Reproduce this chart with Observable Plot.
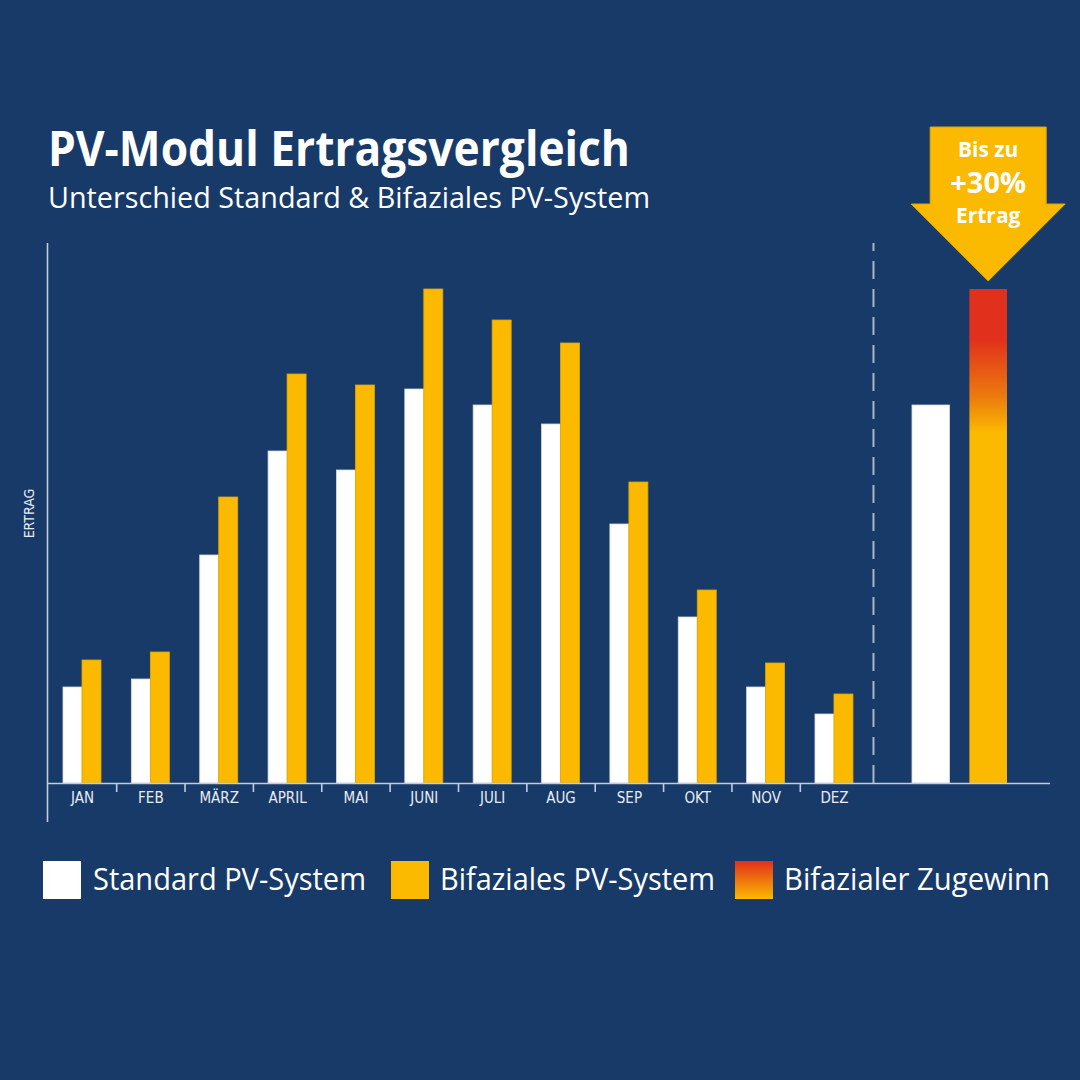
<!DOCTYPE html>
<html><head><meta charset="utf-8">
<script src="https://cdn.jsdelivr.net/npm/d3@7"></script>
<script src="https://cdn.jsdelivr.net/npm/@observablehq/plot@0.6"></script>
<style>
html,body{margin:0;padding:0;background:#173a69;}
body{width:1080px;height:1080px;position:relative;overflow:hidden;font-family:"Open Sans",sans-serif;color:#fff;}
.fit{position:absolute;white-space:nowrap;line-height:1;transform-origin:0 0;}
#title{left:48px;top:124px;font-weight:700;font-size:48px;}
#subtitle{left:48px;top:182px;font-size:29px;}
#chart{position:absolute;left:0;top:110px;}
.sw{position:absolute;width:38px;height:38px;top:861px;box-sizing:border-box;}
.lg{font-size:31px;top:863px;}
</style>
</head><body>
<div id="title" class="fit">PV-Modul Ertragsvergleich</div>
<div id="subtitle" class="fit">Unterschied Standard &amp; Bifaziales PV-System</div>
<div id="chart"></div>
<div id="legend"></div>
<script>
// ---- data ----
const months = ["JAN","FEB","MÄRZ","APRIL","MAI","JUNI","JULI","AUG","SEP","OKT","NOV","DEZ"];
const standard = [96,104,228,332,313,394,378,359,259,166,96,69];
const bifazial = [123,131,286,409,398,494,463,440,301,193,120,89];
const summaryLabels = ["Standard PV-System","Bifaziales PV-System"];
const summaryValues = [378,494];
const legendLabels = ["Standard PV-System","Bifaziales PV-System","Bifazialer Zugewinn"];
const arrowLines = ["Bis zu","+30%","Ertrag"];
const yLabel = "ERTRAG";

// ---- style ----
const WHITE = "#ffffff", YELLOW = "#fbb900", RED = "#e1301c", AXIS = "#c3ccd9", LABEL = "#e8ecf2";
const COND = "'DejaVu Sans Condensed','Liberation Sans Narrow',sans-serif";
const barW = 0.278;
const sumCenter = 12.836, sumW = 0.55, sumGap = 0.29;
const xMin = -0.512, xMax = 14.16, yMax = 540;

const rows = [];
months.forEach((m,i)=>{
  rows.push({month:m, series:"std", x1:i-barW, x2:i, v:standard[i]});
  rows.push({month:m, series:"bif", x1:i, x2:i+barW, v:bifazial[i]});
});
const sumRows = [
  {label:summaryLabels[0], x1:sumCenter-sumGap/2-sumW, x2:sumCenter-sumGap/2, v:summaryValues[0], fill:WHITE, stroke:"#d5dbe4"},
  {label:summaryLabels[1], x1:sumCenter+sumGap/2, x2:sumCenter+sumGap/2+sumW, v:summaryValues[1], fill:"url(#zugewinn)", stroke:"none"}
];
const sepX = (months.length-1 + sumRows[0].x1)/2;

const plot = Plot.plot({
  width:1080, height:720,
  marginTop:133, marginBottom:47, marginLeft:47, marginRight:30,
  style:{background:"transparent", color:LABEL, fontFamily:COND, fontSize:"15px"},
  x:{domain:[xMin,xMax], axis:null},
  y:{domain:[0,yMax], axis:null},
  marks:[
    Plot.rectY(rows,{x1:"x1",x2:"x2",y:"v",fill:d=>d.series==="std"?WHITE:YELLOW, stroke:d=>d.series==="std"?"#d5dbe4":"#e2a700", strokeWidth:0.8}),
    Plot.rectY(sumRows,{x1:"x1",x2:"x2",y:"v",fill:"fill", stroke:"stroke", strokeWidth:0.8}),
    Plot.ruleX([sepX],{y1:0,y2:yMax,stroke:AXIS,strokeWidth:2,strokeDasharray:"18,10",strokeOpacity:0.85}),
    Plot.ruleY([0],{stroke:AXIS,strokeWidth:1.6}),
    Plot.ruleX([xMin],{stroke:AXIS,strokeWidth:1.6,insetBottom:-39}),
    Plot.axisX(d3.range(months.length-1).map(i=>i+0.5),{anchor:"bottom",tickSize:9,tickFormat:()=>"",stroke:AXIS,strokeWidth:1.6}),
    Plot.axisX(d3.range(months.length),{anchor:"bottom",tickSize:0,tickPadding:9,tickFormat:i=>months[i],fill:LABEL,fontSize:15,fontFamily:COND}),
    Plot.text([yLabel],{frameAnchor:"left",textAnchor:"middle",rotate:-90,dx:-18,fill:LABEL,fontSize:14,fontFamily:COND})
  ]
});
document.getElementById("chart").appendChild(plot);

// gradient definition + arrow annotation
const svg = d3.select(plot);
const defs = svg.insert("defs",":first-child");
const lg = defs.append("linearGradient").attr("id","zugewinn").attr("x1",0).attr("y1",0).attr("x2",0).attr("y2",1);
[[0,RED],[0.10,RED],[0.22,"#ec7c0c"],[0.29,YELLOW],[1,YELLOW]].forEach(([o,c])=>lg.append("stop").attr("offset",o).attr("stop-color",c));

const xs = plot.scale("x"), ys = plot.scale("y");
const cx = xs.apply((sumRows[1].x1+sumRows[1].x2)/2);
const tip = ys.apply(summaryValues[1]) - 8;
const g = svg.append("g");
const pts = [[cx-58,tip-154],[cx+58,tip-154],[cx+58,tip-77],[cx+77,tip-77],[cx,tip],[cx-77,tip-77],[cx-58,tip-77]];
g.append("polygon").attr("points",pts.map(p=>p.join(",")).join(" ")).attr("fill",YELLOW).attr("stroke","#e0a600").attr("stroke-width",1);
const at = [[arrowLines[0],tip-124,21],[arrowLines[1],tip-88,29],[arrowLines[2],tip-58,21]];
at.forEach(([t,y,s])=>g.append("text").attr("x",cx).attr("y",y).attr("text-anchor","middle").attr("font-family","'Open Sans',sans-serif").attr("font-weight",700).attr("font-size",s).attr("fill","#fff").text(t));

// legend
const legend = document.getElementById("legend");
const swFill = [WHITE, YELLOW, `linear-gradient(to bottom, ${RED}, ${YELLOW})`];
const swLeft = [43, 391, 735];
const lbLeft = [93, 440, 784];
const lbWidth = [273, 275, 266];
legendLabels.forEach((t,i)=>{
  const s = document.createElement("div"); s.className="sw"; s.style.left=swLeft[i]+"px"; s.style.background=swFill[i];
  legend.appendChild(s);
  const l = document.createElement("div"); l.className="fit lg"; l.style.left=lbLeft[i]+"px"; l.textContent=t; l.dataset.w=lbWidth[i];
  legend.appendChild(l);
});

function fit(el,w){ const r = el.getBoundingClientRect().width; el.style.transform=`scaleX(${w/r})`; }
fit(document.getElementById("title"),582);
fit(document.getElementById("subtitle"),602);
document.querySelectorAll(".lg").forEach(el=>fit(el,+el.dataset.w));
</script>
</body></html>
